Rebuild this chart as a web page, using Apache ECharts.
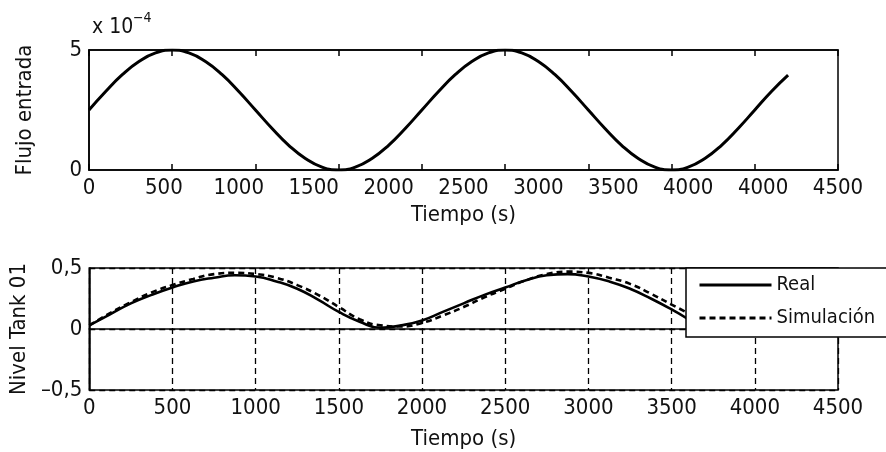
<!DOCTYPE html>
<html><head><meta charset="utf-8">
<script src="https://cdn.jsdelivr.net/npm/echarts@6/dist/echarts.min.js"></script>
<style>html,body{margin:0;padding:0;background:#fff}#c{width:886px;height:452px}</style>
</head><body><div id="c"></div><script>
// ---- data ----
const flowTime = [0,100,200,300,400,500,600,700,800,900,1000,1100,1200,1300,1400,1500,1600,1700,1800,1900,2000,2100,2200,2300,2400,2500,2600,2700,2800,2900,3000,3100,3200,3300,3400,3500,3600,3700,3800,3900,4000,4100,4200];
const flowValues = [2.5,3.27,3.97,4.52,4.88,5.0,4.88,4.52,3.97,3.27,2.5,1.73,1.03,0.48,0.12,0.0,0.12,0.48,1.03,1.73,2.5,3.27,3.97,4.52,4.88,5.0,4.88,4.52,3.97,3.27,2.5,1.73,1.03,0.48,0.12,0.0,0.12,0.48,1.03,1.73,2.5,3.27,3.95]; // x 1e-4
const topTickLabels = ['0','500','1000','1500','2000','2500','3000','3500','4000','4000','4500'];
const levelTime = [0,125,250,375,500,625,750,875,1000,1125,1250,1375,1500,1625,1750,1875,2000,2125,2250,2375,2500,2625,2750,2875,3000,3125,3250,3375,3500,3600];
const levelReal = [0.03,0.12,0.21,0.28,0.34,0.39,0.42,0.44,0.43,0.39,0.33,0.24,0.14,0.06,0.01,0.03,0.07,0.14,0.21,0.28,0.34,0.40,0.44,0.45,0.43,0.39,0.33,0.25,0.16,0.08];
const levelSim  = [0.03,0.13,0.22,0.30,0.36,0.41,0.45,0.46,0.45,0.42,0.36,0.28,0.18,0.08,0.03,0.02,0.05,0.11,0.18,0.26,0.33,0.40,0.45,0.47,0.46,0.42,0.37,0.29,0.20,0.13];
const seriesNames = ['Real','Simulación'];

const FONT = '"Liberation Sans Narrow","DejaVu Sans Condensed",sans-serif';
const TXT = '#111';
const FS = 22;
const zip = (a,b) => a.map((x,i)=>[x,b[i]]);
const lab = {fontFamily:FONT, fontSize:FS, color:TXT};

const chart = echarts.init(document.getElementById('c'), null, {renderer:'canvas'});
chart.setOption({
  animation:false,
  backgroundColor:'#fff',
  textStyle:{fontFamily:FONT},
  grid:[
    {left:89, top:50, width:749, height:120, show:true, borderColor:'#000', borderWidth:1.5},
    {left:89, top:268, width:749, height:122, show:true, borderColor:'#000', borderWidth:1.5}
  ],
  xAxis:[
    {gridIndex:0, type:'value', min:0, max:4500, interval:500,
     axisLine:{lineStyle:{color:'#000', width:1.5}}, axisTick:{inside:true, length:6, lineStyle:{color:'#000', width:1.5}},
     axisLabel:{show:false}, splitLine:{show:false}},
    {gridIndex:0, type:'value', position:'top', min:0, max:4500, interval:500,
     axisLine:{lineStyle:{color:'#000', width:1.5}}, axisTick:{inside:true, length:6, lineStyle:{color:'#000', width:1.5}},
     axisLabel:{show:false}, splitLine:{show:false}},
    {gridIndex:0, type:'value', position:'bottom', min:0, max:10, interval:1,
     axisLine:{show:false}, axisTick:{show:false}, splitLine:{show:false},
     axisLabel:Object.assign({margin:7, formatter:v=>topTickLabels[v]}, lab),
     name:'Tiempo (s)', nameLocation:'middle', nameGap:34, nameTextStyle:lab},
    {gridIndex:1, type:'value', min:0, max:4500, interval:500,
     axisLine:{lineStyle:{color:'#000', width:1.5}}, axisTick:{show:false},
     splitLine:{show:true, lineStyle:{color:'#000', width:1.3, type:[6,4]}},
     axisLabel:Object.assign({margin:7, formatter:v=>String(v)}, lab),
     name:'Tiempo (s)', nameLocation:'middle', nameGap:38, nameTextStyle:lab}
  ],
  yAxis:[
    {gridIndex:0, type:'value', min:0, max:5, interval:5,
     axisLine:{lineStyle:{color:'#000', width:1.5}}, axisTick:{show:false}, splitLine:{show:false},
     axisLabel:Object.assign({margin:7}, lab),
     name:'Flujo entrada', nameLocation:'middle', nameGap:53, nameTextStyle:lab},
    {gridIndex:1, type:'value', min:-0.5, max:0.5, interval:0.5,
     axisLine:{lineStyle:{color:'#000', width:1.5}}, axisTick:{show:false},
     splitLine:{show:true, lineStyle:{color:'#000', width:1.3, type:[6,4]}},
     axisLabel:Object.assign({margin:7, formatter:v=>String(v).replace('.',',').replace('-','\u2013')}, lab),
     name:'Nivel Tank 01', nameLocation:'middle', nameGap:53, nameTextStyle:lab}
  ],
  legend:{
    data:seriesNames, orient:'vertical', left:686, top:268,
    backgroundColor:'#fff', borderColor:'#000', borderWidth:1.5, borderRadius:0,
    padding:[7,40,9,12], itemWidth:72, itemHeight:14, itemGap:13,
    itemStyle:{color:'rgba(0,0,0,0)', borderWidth:0, opacity:0},
    lineStyle:{width:3},
    textStyle:{fontFamily:FONT, fontSize:20, color:TXT}
  },
  graphic:[
    {type:'text', left:92, top:17, style:{text:'x 10', fontFamily:FONT, fontSize:21, fill:TXT}},
    {type:'text', left:133, top:11, style:{text:'\u22124', fontFamily:FONT, fontSize:14, fill:TXT}}
  ],
  series:[
    {type:'line', xAxisIndex:0, yAxisIndex:0, data:zip(flowTime, flowValues), symbol:'none', smooth:true,
     lineStyle:{color:'#000', width:3}},
    {name:seriesNames[0], type:'line', xAxisIndex:3, yAxisIndex:1, data:zip(levelTime, levelReal), symbol:'none', smooth:true,
     color:'#000', lineStyle:{color:'#000', width:2.6, type:'solid'}},
    {name:seriesNames[1], type:'line', xAxisIndex:3, yAxisIndex:1, data:zip(levelTime, levelSim), symbol:'none', smooth:true,
     color:'#000', lineStyle:{color:'#000', width:2.6, type:[6,4]}}
  ]
});
</script></body></html>
